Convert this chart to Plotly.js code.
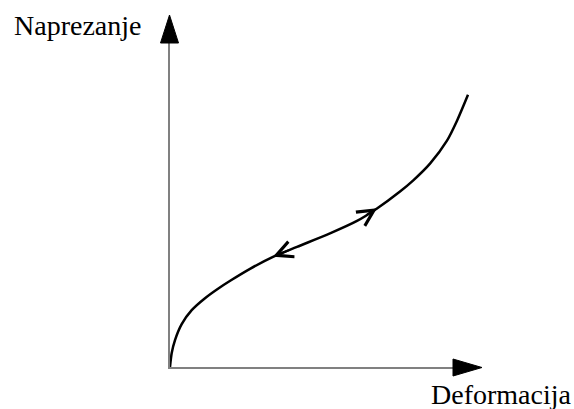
<!DOCTYPE html>
<html>
<head>
<meta charset="utf-8">
<script src="https://cdn.plot.ly/plotly-3.0.1.min.js"></script>
<style>html,body{margin:0;padding:0;background:#fff;}#chart{width:574px;height:409px;}</style>
</head>
<body>
<div id="chart"></div>
<script>
// Curve data (deformation vs stress, arbitrary units)
const strain = [0, 0.057, 0.167, 0.39, 0.723, 1.167, 1.6, 2.033, 2.667, 3.433, 4.233, 5.333, 6.233, 6.9, 7.667, 8.1, 8.667, 9.233, 9.567, 9.933];
const stress = [0, 0.467, 0.9, 1.433, 1.9, 2.3, 2.617, 2.9, 3.283, 3.683, 4.017, 4.467, 4.883, 5.3, 5.867, 6.233, 6.8, 7.567, 8.233, 9.1];

// Direction arrows on the curve (tip and tail points)
const arrowTipX = [6.9, 3.433];
const arrowTipY = [5.31, 3.69];
const arrowTailX = [6.5, 4.0];
const arrowTailY = [5.05, 3.92];

const yLabel = 'Naprezanje';
const xLabel = 'Deformacija';

const W = 574, H = 409;
const M = {l: 170, r: 104, t: 38, b: 42};
const pw = W - M.l - M.r, ph = H - M.t - M.b;
const fx = px => (px - M.l) / pw;
const fy = py => (H - M.b - py) / ph;
function tri(p) {
  return 'M' + p.map(q => fx(q[0]) + ',' + fy(q[1])).join(' L') + ' Z';
}

const trace = {
  x: strain, y: stress, type: 'scatter', mode: 'lines',
  line: {color: '#000', width: 2.5, shape: 'spline', smoothing: 0.8},
  hoverinfo: 'none', cliponaxis: false
};

const annotations = arrowTipX.map((x, i) => ({
  x: x, y: arrowTipY[i], ax: arrowTailX[i], ay: arrowTailY[i],
  xref: 'x', yref: 'y', axref: 'x', ayref: 'y',
  text: '', showarrow: true, arrowhead: 5, arrowsize: 1.6, arrowwidth: 2, arrowcolor: '#000'
}));
annotations.push({
  text: yLabel, xref: 'paper', yref: 'paper', x: fx(12), y: fy(25),
  xanchor: 'left', yanchor: 'middle', showarrow: false,
  font: {family: 'Liberation Serif, Times New Roman, serif', size: 28, color: '#000'}
});
annotations.push({
  text: xLabel, xref: 'paper', yref: 'paper', x: fx(573), y: fy(395),
  xanchor: 'right', yanchor: 'middle', showarrow: false,
  font: {family: 'Liberation Serif, Times New Roman, serif', size: 28, color: '#000'}
});

const shapes = [
  {type: 'path', xref: 'paper', yref: 'paper', path: tri([[169.5, 15], [160.5, 43], [178.5, 43]]),
   fillcolor: '#000', line: {color: '#000', width: 1}},
  {type: 'path', xref: 'paper', yref: 'paper', path: tri([[482, 367.5], [453, 359], [453, 376]]),
   fillcolor: '#000', line: {color: '#000', width: 1}}
];

const layout = {
  width: W, height: H,
  margin: M,
  paper_bgcolor: '#fff', plot_bgcolor: '#fff',
  showlegend: false,
  xaxis: {range: [0, 10], showline: true, linecolor: '#808080', linewidth: 2,
          showgrid: false, zeroline: false, showticklabels: false, ticks: ''},
  yaxis: {range: [0, 11], showline: true, linecolor: '#808080', linewidth: 2,
          showgrid: false, zeroline: false, showticklabels: false, ticks: ''},
  annotations: annotations,
  shapes: shapes
};

Plotly.newPlot('chart', [trace], layout, {staticPlot: true, displayModeBar: false});
</script>
</body>
</html>
